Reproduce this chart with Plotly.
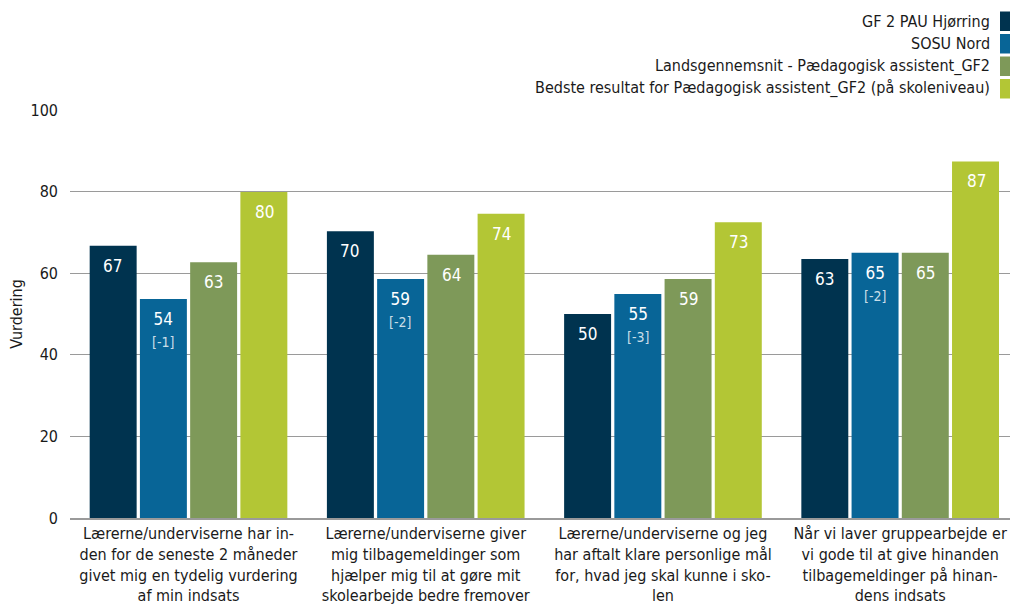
import plotly.graph_objects as go

categories = [
    "Lærerne/underviserne har in-<br>den for de seneste 2 måneder<br>givet mig en tydelig vurdering<br>af min indsats",
    "Lærerne/underviserne giver<br>mig tilbagemeldinger som<br>hjælper mig til at gøre mit<br>skolearbejde bedre fremover",
    "Lærerne/underviserne og jeg<br>har aftalt klare personlige mål<br>for, hvad jeg skal kunne i sko-<br>len",
    "Når vi laver gruppearbejde er<br>vi gode til at give hinanden<br>tilbagemeldinger på hinan-<br>dens indsats",
]
series_names = [
    "GF 2 PAU Hjørring",
    "SOSU Nord",
    "Landsgennemsnit - Pædagogisk assistent_GF2",
    "Bedste resultat for Pædagogisk assistent_GF2 (på skoleniveau)",
]
hjoerring = [66.7, 70.3, 50.0, 63.5]
sosu_nord = [53.7, 58.6, 54.9, 65.0]
landsgns = [62.7, 64.5, 58.6, 65.0]
bedste = [79.9, 74.6, 72.5, 87.4]
labels = [
    ["67", "70", "50", "63"],
    ["54", "59", "55", "65"],
    ["63", "64", "59", "65"],
    ["80", "74", "73", "87"],
]
diffs = ["[-1]", "[-2]", "[-3]", "[-2]"]
colors = ["#00334f", "#086597", "#7e9959", "#b3c635"]
y_ticks = [0, 20, 40, 60, 80, 100]

values = [hjoerring, sosu_nord, landsgns, bedste]
FONT = "Tahoma, 'DejaVu Sans Condensed', 'Liberation Sans', sans-serif"

W, H = 1010, 607

fig = go.Figure()
xs = list(range(len(categories)))
for name, vals, col in zip(series_names, values, colors):
    fig.add_trace(go.Bar(x=xs, y=vals, name=name, marker=dict(color=col, line=dict(width=0)),
                         showlegend=False, hoverinfo="y"))

# bar value labels
slot_px = 50.6
annotations = []
for i, (vals, labs) in enumerate(zip(values, labels)):
    for j, v in enumerate(vals):
        txt = labs[j]
        if i == 1:
            txt = labs[j] + "<br><span style='font-size:14px;color:rgba(255,255,255,0.8)'>" + diffs[j] + "</span>"
        annotations.append(dict(
            x=j, y=v, xref="x", yref="y", text=txt, showarrow=False,
            xshift=(i - 1.5) * slot_px, yshift=-8, yanchor="top", xanchor="center",
            font=dict(family=FONT, size=17, color="white"), align="center",
        ))

# manual legend (text left of swatch); coordinates in screen pixels
plot_top, plot_bottom, plot_left, plot_right = 110, 518, 70, 1010
def py2paper(py):
    return (plot_bottom - py) / (plot_bottom - plot_top)
def px2paper(px):
    return (px - plot_left) / (plot_right - plot_left)

row_centers = [21, 43.5, 66, 88.5]
shapes = []
for name, col, yc in zip(series_names, colors, row_centers):
    annotations.append(dict(
        x=px2paper(992), y=py2paper(yc), xref="paper", yref="paper", text=name,
        showarrow=False, xanchor="right", yanchor="middle",
        font=dict(family=FONT, size=16, color="#1a1a1a"),
    ))
    shapes.append(dict(type="rect", xref="paper", yref="paper",
                       x0=px2paper(1000), x1=px2paper(1010),
                       y0=py2paper(yc + 10), y1=py2paper(yc - 9.5),
                       fillcolor=col, line=dict(width=0), layer="above"))

fig.update_layout(
    width=W, height=H,
    margin=dict(l=plot_left, r=W - plot_right, t=plot_top, b=H - plot_bottom, pad=0),
    paper_bgcolor="white", plot_bgcolor="white",
    barmode="group", bargap=0.153, bargroupgap=0.065,
    font=dict(family=FONT, size=16, color="#1a1a1a"),
    annotations=annotations, shapes=shapes,
    showlegend=False,
    xaxis=dict(
        tickmode="array", tickvals=xs, ticktext=categories,
        range=[-0.4996, 3.463], showgrid=False, zeroline=False,
        showline=True, linecolor="#9a9a9a", linewidth=1.5,
        ticks="", tickfont=dict(family=FONT, size=16, color="#1a1a1a"),
        fixedrange=True,
    ),
    yaxis=dict(
        range=[0, 100], tickvals=y_ticks, showgrid=True, gridcolor="#9a9a9a",
        gridwidth=1, zeroline=False, showline=False, ticks="",
        tickfont=dict(family=FONT, size=16, color="#1a1a1a"), ticklabelstandoff=11,
        title=dict(text="Vurdering", font=dict(family=FONT, size=16, color="#1a1a1a"), standoff=3),
        fixedrange=True,
    ),
)

fig.write_html(
    "out.html",
    config={"displayModeBar": False},
    post_script="document.documentElement.style.overflow='hidden';"
                "document.body.style.margin='0';document.body.style.overflow='hidden';",
)
